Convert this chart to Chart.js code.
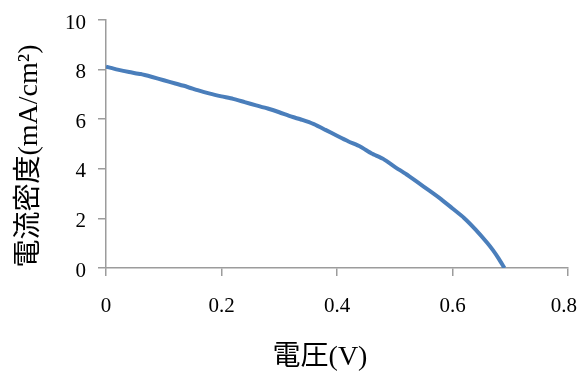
<!DOCTYPE html>
<html>
<head>
<meta charset="utf-8">
<script src="https://cdn.jsdelivr.net/npm/chart.js@4"></script>
<style>
html,body{margin:0;padding:0;background:#fff;}
#wrap{width:577px;height:374px;}
</style>
</head>
<body>
<div id="wrap"><canvas id="c" width="577" height="374"></canvas></div>
<script>
const voltage = [0, 0.02, 0.04, 0.06, 0.08, 0.10, 0.12, 0.14, 0.16, 0.18, 0.20, 0.22, 0.24, 0.26, 0.28, 0.30, 0.32, 0.34, 0.36, 0.38, 0.40, 0.42, 0.44, 0.46, 0.48, 0.50, 0.52, 0.54, 0.56, 0.58, 0.60, 0.62, 0.64, 0.66, 0.67, 0.68, 0.69];
const currentDensity = [8.12, 8.00, 7.90, 7.82, 7.70, 7.57, 7.44, 7.31, 7.16, 7.03, 6.92, 6.82, 6.69, 6.56, 6.43, 6.28, 6.11, 5.97, 5.80, 5.57, 5.33, 5.10, 4.90, 4.62, 4.40, 4.08, 3.78, 3.45, 3.12, 2.78, 2.40, 2.02, 1.55, 1.02, 0.72, 0.38, 0];
const xTickLabels = ['0', '0.2', '0.4', '0.6', '0.8'];
const yTickLabels = ['0', '2', '4', '6', '8', '10'];
const xTitle = '電圧(V)';
const yTitle = '電流密度(mA/cm²)';

const points = voltage.map((v, i) => ({x: v, y: currentDensity[i]}));
const fontFam = '"Liberation Serif", "Noto Sans CJK JP", serif';
const axisColor = '#9c9c9c';

function shift(scale, name, dx, dy) {
  const key = '_shifted_' + name;
  if (scale[key]) return;
  scale[key] = true;
  const orig = scale[name];
  scale[name] = function (...args) {
    const ctx = this.ctx;
    ctx.save();
    ctx.translate(dx, dy);
    orig.apply(this, args);
    ctx.restore();
  };
}

function keepLastLabelInside(scale, maxRight) {
  if (scale._keepInside) return;
  scale._keepInside = true;
  const orig = scale._computeLabelItems;
  scale._computeLabelItems = function (...args) {
    const items = orig.apply(this, args);
    const last = items[items.length - 1];
    if (last && last.options && last.options.translation) {
      const ctx = this.ctx;
      ctx.save();
      ctx.font = last.font.string;
      const w = ctx.measureText(String(last.label)).width;
      ctx.restore();
      const x = last.options.translation[0];
      if (x + w / 2 > maxRight) last.options.translation[0] = maxRight - w / 2;
    }
    return items;
  };
}

new Chart(document.getElementById('c'), {
  type: 'line',
  data: {
    datasets: [{
      data: points,
      borderColor: '#4a7ebb',
      borderWidth: 4,
      pointRadius: 0,
      tension: 0.2,
      fill: false
    }]
  },
  options: {
    responsive: false,
    animation: false,
    layout: {padding: {top: 20, right: 9, left: 0, bottom: 0}},
    plugins: {legend: {display: false}, tooltip: {enabled: false}},
    scales: {
      x: {
        type: 'linear',
        min: 0, max: 0.8,
        ticks: {
          stepSize: 0.2,
          color: '#000',
          padding: 18,
          maxRotation: 0,
          font: {family: fontFam, size: 21},
          callback: (v, i) => xTickLabels[i]
        },
        grid: {display: true, drawOnChartArea: false, drawTicks: true, tickLength: 8, color: axisColor, lineWidth: 1.5},
        border: {display: true, color: axisColor, width: 1.5},
        title: {display: true, text: xTitle, color: '#000', font: {family: fontFam, size: 28}, padding: {top: 0, bottom: 0}},
        afterFit: s => { s.height = 106; s.paddingLeft = 0; s.paddingRight = 0; shift(s, 'drawTitle', -17, 0); keepLastLabelInside(s, 577); }
      },
      y: {
        min: 0, max: 10,
        ticks: {
          stepSize: 2,
          color: '#000',
          padding: 12,
          font: {family: fontFam, size: 21},
          callback: (v, i) => yTickLabels[i]
        },
        grid: {display: true, drawOnChartArea: false, drawTicks: true, tickLength: 8, color: axisColor, lineWidth: 1.5},
        border: {display: true, color: axisColor, width: 1.5},
        title: {display: true, text: yTitle, color: '#000', font: {family: fontFam, size: 28}, padding: {top: 13, bottom: 0}},
        afterFit: s => { s.width = 106; s.paddingTop = 0; s.paddingBottom = 0; shift(s, 'drawTitle', 0, 12); shift(s, 'drawLabels', 0, 3); }
      }
    }
  }
});
</script>
</body>
</html>
